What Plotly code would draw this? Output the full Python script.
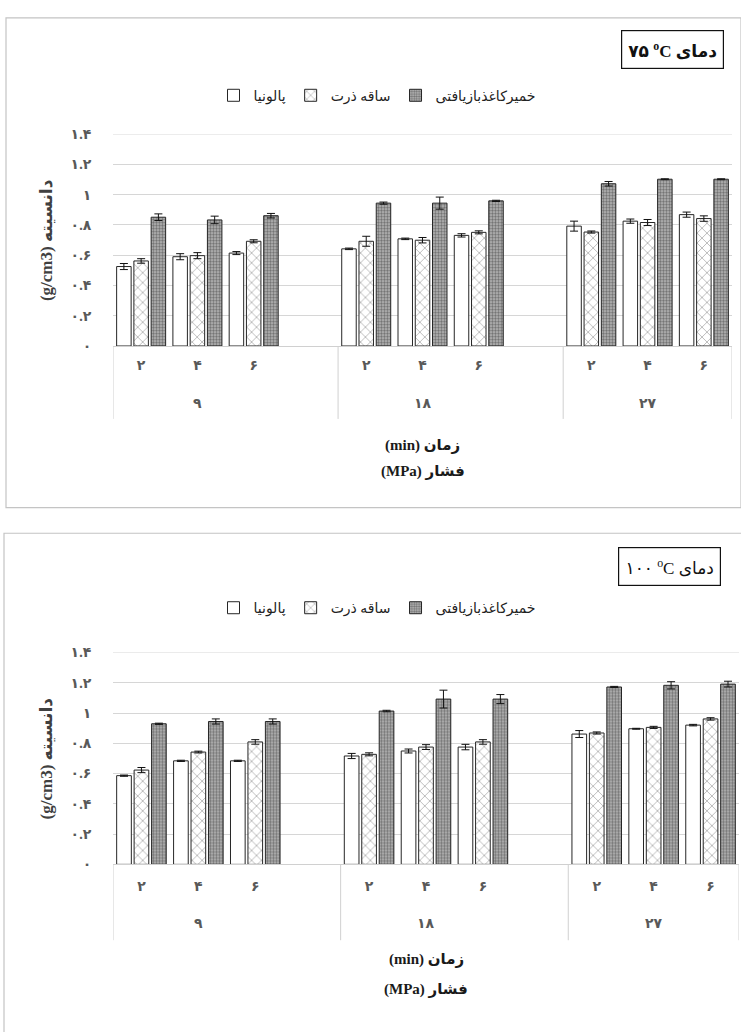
import plotly.graph_objects as go

# ---------------------------------------------------------------- data
pressure_groups = ["۹", "۱۸", "۲۷"]          # pressure (MPa)
time_labels = ["۲", "۴", "۶"]                # pressing time (min)
series_names = ["پالونیا", "ساقه ذرت", "خمیرکاغذبازیافتی"]
y_tick_values = [0, 0.2, 0.4, 0.6, 0.8, 1.0, 1.2, 1.4]
y_tick_labels = ["۰", "۰.۲", "۰.۴", "۰.۶", "۰.۸", "۱", "۱.۲", "۱.۴"]

# density (g/cm3) at 75 °C, ordered pressure -> time
paulownia_75 = [0.525, 0.590, 0.614, 0.642, 0.708, 0.731, 0.792, 0.825, 0.868]
paulownia_75_err = [0.020, 0.020, 0.010, 0.005, 0.005, 0.011, 0.033, 0.014, 0.017]
corn_75 = [0.562, 0.597, 0.692, 0.692, 0.699, 0.751, 0.753, 0.816, 0.842]
corn_75_err = [0.015, 0.020, 0.010, 0.033, 0.018, 0.010, 0.007, 0.020, 0.018]
recycled_75 = [0.851, 0.833, 0.861, 0.944, 0.944, 0.959, 1.072, 1.102, 1.102]
recycled_75_err = [0.022, 0.025, 0.015, 0.007, 0.040, 0.004, 0.015, 0.003, 0.003]

# density (g/cm3) at 100 °C
paulownia_100 = [0.586, 0.684, 0.684, 0.716, 0.749, 0.775, 0.861, 0.896, 0.920]
paulownia_100_err = [0.004, 0.004, 0.004, 0.017, 0.013, 0.018, 0.023, 0.003, 0.005]
corn_100 = [0.623, 0.742, 0.809, 0.727, 0.775, 0.809, 0.868, 0.905, 0.961]
corn_100_err = [0.017, 0.006, 0.015, 0.010, 0.016, 0.015, 0.007, 0.007, 0.008]
recycled_100 = [0.929, 0.944, 0.944, 1.013, 1.092, 1.092, 1.172, 1.183, 1.191]
recycled_100_err = [0.004, 0.017, 0.017, 0.005, 0.059, 0.030, 0.004, 0.024, 0.019]

# text strings are written in display order (SVG text runs left-to-right)
x_title_time = "(min) زمان"
x_title_pressure = "(MPa) فشار"
y_title = "(g/cm3) دانسیته"
panel_titles = ["۷۵ <sup>o</sup>C دمای", "۱۰۰ <sup>o</sup>C دمای"]

# ---------------------------------------------------------------- layout helpers
W, H = 741, 1032
FONT = "Liberation Serif, DejaVu Sans"
Y_MAX = 1.4
GRID = "#d6d6d6"


def fy(px):
    return 1 - px / H


def fx(px):
    return px / W


# each pressure group takes one empty slot after its three time slots
slots_per_group = len(time_labels) + 1
x_pos = [g * slots_per_group + t for g in range(len(pressure_groups))
         for t in range(len(time_labels))]
x_lo, x_hi = -0.5, x_pos[-1] + 0.5
group_centers = [g * slots_per_group + (len(time_labels) - 1) / 2
                 for g in range(len(pressure_groups))]
group_edges = [g * slots_per_group - 0.5 for g in range(len(pressure_groups))] + [x_hi]

styles = [
    dict(color="white", line=dict(color="#262626", width=1)),
    dict(color="white", line=dict(color="#262626", width=1),
         pattern=dict(shape="x", fgcolor="#3a3a3a", size=7, solidity=0.18)),
    dict(color="#b8b8b8", line=dict(color="#262626", width=1),
         pattern=dict(shape=".", fgcolor="#2b2b2b", size=3, solidity=0.5)),
]

panels = [
    dict(title=panel_titles[0], title_bold=True,
         values=[paulownia_75, corn_75, recycled_75],
         errors=[paulownia_75_err, corn_75_err, recycled_75_err],
         plot_x=(113, 732), plot_y=(129, 344), frame=(6, 11, 741, 508),
         box=(672, 43), legend_y=90,
         tick_gap=6, group_y=402, div_y=418, t1_y=445, t2_y=471),
    dict(title=panel_titles[1], title_bold=False,
         values=[paulownia_100, corn_100, recycled_100],
         errors=[paulownia_100_err, corn_100_err, recycled_100_err],
         plot_x=(113, 739), plot_y=(655, 870), frame=(4, 534, 745, 1045),
         box=(669, 568), legend_y=610,
         tick_gap=9, group_y=930, div_y=947, t1_y=967, t2_y=997),
]

fig = go.Figure()
shapes, annotations = [], []
layout = {}

for i, p in enumerate(panels):
    sfx = "" if i == 0 else str(i + 1)
    xa, ya, lg = "x" + sfx, "y" + sfx, "legend" + sfx
    for s, name in enumerate(series_names):
        fig.add_trace(go.Bar(
            x=x_pos, y=p["values"][s], name=name,
            xaxis=xa, yaxis=ya, legend=lg,
            marker=styles[s],
            error_y=dict(type="data", array=p["errors"][s], visible=True,
                         color="#111111", thickness=1, width=4),
        ))

    x0, x1 = p["plot_x"]
    ytop, ybot = p["plot_y"]
    layout["xaxis" + sfx] = dict(
        domain=[fx(x0), fx(x1)], anchor=ya, range=[x_lo, x_hi],
        tickmode="array", tickvals=x_pos, ticktext=time_labels * len(pressure_groups),
        tickfont=dict(family=FONT, size=14, color="#595959", weight="bold"),
        ticks="outside", ticklen=p["tick_gap"], tickcolor="rgba(0,0,0,0)",
        showgrid=False, zeroline=False, showline=True, linecolor="#d0d0d0",
        fixedrange=True,
    )
    layout["yaxis" + sfx] = dict(
        domain=[fy(ybot), fy(ytop)], anchor=xa, range=[0, Y_MAX],
        tickmode="array", tickvals=y_tick_values, ticktext=y_tick_labels,
        tickfont=dict(family=FONT, size=14, color="#595959", weight="bold"),
        ticks="outside", ticklen=18, tickcolor="rgba(0,0,0,0)",
        showgrid=True, gridcolor=GRID, gridwidth=1,
        zeroline=False, showline=False, fixedrange=True,
    )
    layout[lg] = dict(
        orientation="h", x=fx(377), xanchor="center", y=fy(p["legend_y"]),
        yanchor="middle", font=dict(family=FONT, size=14, color="#222222"),
        itemwidth=30, bgcolor="rgba(0,0,0,0)", traceorder="normal",
    )

    # gridline at the top of the value range
    shapes.append(dict(type="line", xref=xa + " domain", yref=ya,
                       x0=0, x1=1, y0=Y_MAX, y1=Y_MAX, layer="below",
                       line=dict(color=GRID, width=1)))

    # category dividers under the axis
    for e in group_edges:
        shapes.append(dict(type="line", xref=xa, yref="paper", x0=e, x1=e,
                           y0=fy(ybot), y1=fy(p["div_y"]),
                           line=dict(color="#d0d0d0", width=1)))
    for g, c in enumerate(group_centers):
        annotations.append(dict(xref=xa, yref="paper", x=c, y=fy(p["group_y"]),
                                xanchor="center", yanchor="middle",
                                text=pressure_groups[g], showarrow=False,
                                font=dict(family=FONT, size=14, color="#595959",
                                          weight="bold")))

    # panel frame
    fl, ft, fr, fb = p["frame"]
    shapes.append(dict(type="rect", xref="paper", yref="paper",
                       x0=fx(fl), x1=fx(fr), y0=fy(fb), y1=fy(ft),
                       line=dict(color="#c4c4c4", width=1.2), layer="below"))

    # axis titles
    mid = (x0 + x1) / 2
    for text, ypix in ((x_title_time, p["t1_y"]), (x_title_pressure, p["t2_y"])):
        annotations.append(dict(xref="paper", yref="paper", x=fx(mid), y=fy(ypix),
                                xanchor="center", yanchor="middle",
                                text=text, showarrow=False,
                                font=dict(family=FONT, size=15, color="#1a1a1a",
                                          weight="bold")))
    annotations.append(dict(xref="paper", yref="paper", x=fx(46),
                            y=fy((ytop + ybot) / 2), xanchor="center",
                            yanchor="middle", textangle=-90,
                            text=y_title, showarrow=False,
                            font=dict(family=FONT, size=17, color="#404040",
                                      weight="bold")))

    # temperature box
    bx, by = p["box"]
    annotations.append(dict(xref="paper", yref="paper", x=fx(bx), y=fy(by),
                            xanchor="center", yanchor="middle",
                            text=p["title"], showarrow=False,
                            width=97, height=33, borderpad=2,
                            bordercolor="#111111", borderwidth=1.2,
                            bgcolor="white",
                            font=dict(family=FONT, size=17, color="#111111",
                                      weight="bold" if p["title_bold"] else "normal")))

fig.update_layout(
    width=W, height=H, margin=dict(l=0, r=0, t=0, b=0),
    paper_bgcolor="white", plot_bgcolor="white",
    barmode="group", bargap=0.08, bargroupgap=0.16,
    showlegend=True, shapes=shapes, annotations=annotations,
    **layout,
)

fig.write_html("out.html")
